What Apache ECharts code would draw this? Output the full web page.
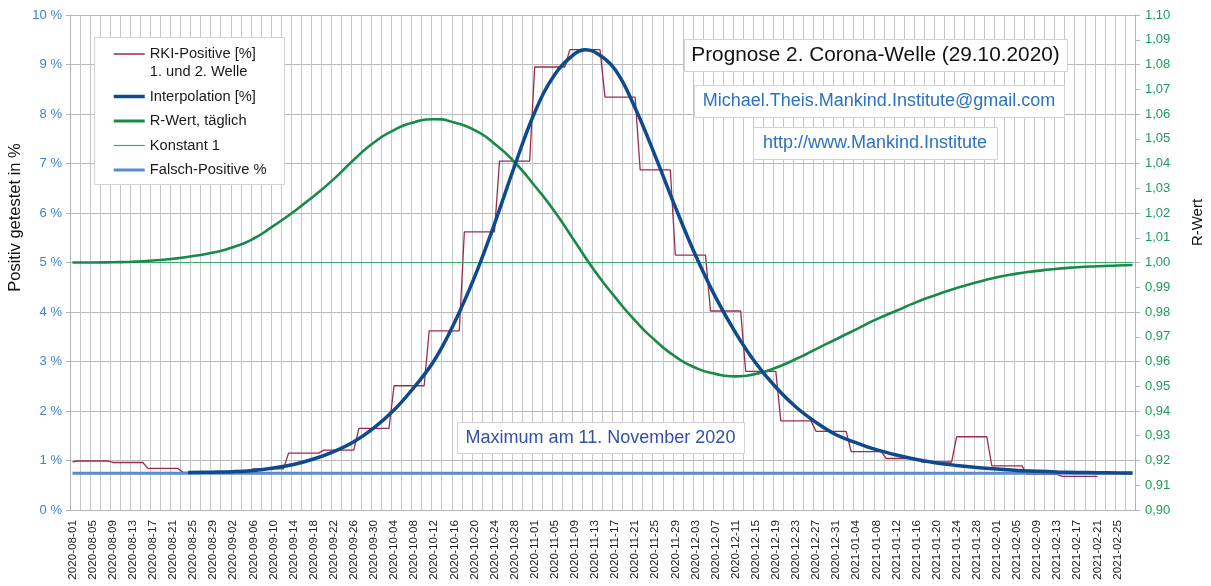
<!DOCTYPE html>
<html>
<head>
<meta charset="utf-8">
<script src="https://cdn.jsdelivr.net/npm/echarts@6/dist/echarts.min.js"></script>
<style>
  html, body { margin: 0; background: #fff; }
  #chart { width: 1211px; height: 586px; }
</style>
</head>
<body>
<div id="chart"></div>
<script>
const FONT = '"Liberation Sans", Arial, sans-serif';

// Tage 2020-08-01 .. 2021-02-28 (Kategorien)
const firstDay = Date.UTC(2020, 7, 1);
const days = [];
for (let i = 0; i < 212; i++) {
  days.push(new Date(firstDay + i * 86400000).toISOString().slice(0, 10));
}

// RKI-Positive [%], wochenweise (Beginn der Woche)
const rkiStarts = ['2020-08-01', '2020-08-02', '2020-08-09', '2020-08-16', '2020-08-23', '2020-08-30',
  '2020-09-06', '2020-09-13', '2020-09-20', '2020-09-27', '2020-10-04', '2020-10-11', '2020-10-18',
  '2020-10-25', '2020-11-01', '2020-11-08', '2020-11-15', '2020-11-22', '2020-11-29', '2020-12-06',
  '2020-12-13', '2020-12-20', '2020-12-27', '2021-01-03', '2021-01-10', '2021-01-17', '2021-01-24',
  '2021-01-31', '2021-02-07', '2021-02-14'];
const rkiValues = [0.97, 0.99, 0.96, 0.84, 0.76, 0.77,
  0.83, 1.15, 1.21, 1.65, 2.51, 3.62, 5.62,
  7.05, 8.95, 9.30, 8.34, 6.87, 5.15, 4.02,
  2.80, 1.80, 1.59, 1.18, 1.04, 0.97, 1.48,
  0.89, 0.72, 0.68];
const rkiLastDay = '2021-02-21';

// Interpolation [%]
const interpDates = ['2020-08-24', '2020-08-29', '2020-09-02', '2020-09-06', '2020-09-10', '2020-09-14',
  '2020-09-18', '2020-09-22', '2020-09-26', '2020-09-30', '2020-10-04', '2020-10-08', '2020-10-12',
  '2020-10-16', '2020-10-20', '2020-10-24', '2020-10-28', '2020-11-01', '2020-11-05', '2020-11-09',
  '2020-11-11', '2020-11-13', '2020-11-17', '2020-11-21', '2020-11-25', '2020-11-29', '2020-12-03',
  '2020-12-07', '2020-12-11', '2020-12-15', '2020-12-19', '2020-12-23', '2020-12-27', '2020-12-31',
  '2021-01-04', '2021-01-08', '2021-01-12', '2021-01-16', '2021-01-20', '2021-01-24', '2021-01-28',
  '2021-02-01', '2021-02-05', '2021-02-09', '2021-02-13', '2021-02-17', '2021-02-21', '2021-02-25',
  '2021-02-28'];
const interpValues = [0.76, 0.765, 0.775, 0.80, 0.85, 0.92,
  1.03, 1.18, 1.38, 1.66, 2.02, 2.48, 3.02,
  3.78, 4.70, 5.78, 6.95, 8.03, 8.80, 9.22,
  9.30, 9.25, 8.90, 8.12, 7.15, 6.12, 5.15,
  4.30, 3.58, 2.97, 2.48, 2.08, 1.77, 1.52,
  1.36, 1.22, 1.11, 1.02, 0.95, 0.90, 0.86,
  0.83, 0.80, 0.785, 0.77, 0.76, 0.755, 0.75,
  0.745];

// R-Wert, täglich (rechte Achse)
const rDates = ['2020-08-01', '2020-08-05', '2020-08-09', '2020-08-13', '2020-08-17', '2020-08-21',
  '2020-08-25', '2020-08-29', '2020-09-02', '2020-09-06', '2020-09-10', '2020-09-14', '2020-09-18',
  '2020-09-22', '2020-09-26', '2020-09-30', '2020-10-04', '2020-10-08', '2020-10-12', '2020-10-16',
  '2020-10-20', '2020-10-24', '2020-10-28', '2020-11-01', '2020-11-05', '2020-11-09', '2020-11-13',
  '2020-11-17', '2020-11-21', '2020-11-25', '2020-11-29', '2020-12-03', '2020-12-07', '2020-12-11',
  '2020-12-15', '2020-12-19', '2020-12-23', '2020-12-27', '2020-12-31', '2021-01-04', '2021-01-08',
  '2021-01-12', '2021-01-16', '2021-01-20', '2021-01-24', '2021-01-28', '2021-02-01', '2021-02-05',
  '2021-02-09', '2021-02-13', '2021-02-17', '2021-02-21', '2021-02-25', '2021-02-28'];
const rValues = [1.0000, 1.0000, 1.0001, 1.0003, 1.0008, 1.0015,
  1.0026, 1.0040, 1.0062, 1.0096, 1.0148, 1.0205, 1.0268,
  1.0337, 1.0415, 1.0485, 1.0535, 1.0567, 1.0579, 1.0566,
  1.0535, 1.0480, 1.0405, 1.0310, 1.0205, 1.0085, 0.9965,
  0.9860, 0.9765, 0.9685, 0.9620, 0.9575, 0.9550, 0.9540,
  0.9550, 0.9575, 0.9610, 0.9650, 0.9690, 0.9730, 0.9770,
  0.9805, 0.9840, 0.9870, 0.9897, 0.9920, 0.9940, 0.9955,
  0.9966, 0.9975, 0.9981, 0.9985, 0.9988, 0.9990];

const konstantValue = 1.0;
const falschPositiveValue = 0.74;

const leftTicks = [0, 10, 1];        // min, max, interval (%)
const rightTicks = [0.9, 1.1, 0.01]; // min, max, interval (R)

// Stufenlinie: jede Woche hält ihren Wert bis zum Vortag der nächsten
const rkiData = [];
rkiStarts.forEach((s, k) => {
  const end = k < rkiStarts.length - 1 ? days[days.indexOf(rkiStarts[k + 1]) - 1] : rkiLastDay;
  rkiData.push([s, rkiValues[k]]);
  if (end !== s) rkiData.push([end, rkiValues[k]]);
});

const RKI_NAME = 'RKI-Positive [%]\n1. und 2. Welle';
const C_RKI = '#9a2c4c', C_INT = '#0e4a8c', C_R = '#178a4a', C_K = '#3aa96a', C_FP = '#5b8bd0';

const chart = echarts.init(document.getElementById('chart'));

const boxStyle = { fill: '#fff', stroke: '#d2d2d2', lineWidth: 1 };
function box(x, y, w, h, z) {
  return { type: 'rect', z: z, silent: true, shape: { x: x + 0.5, y: y + 0.5, width: w, height: h }, style: boxStyle };
}
function label(text, cx, cy, size, color) {
  return {
    type: 'text', z: 11, silent: true, x: cx, y: cy,
    style: { text: text, font: size + 'px ' + FONT, fill: color, align: 'center', verticalAlign: 'middle' }
  };
}

chart.setOption({
  animation: false,
  backgroundColor: '#fff',
  textStyle: { fontFamily: FONT },
  grid: { left: 70, right: 76, top: 15, bottom: 76, outerBoundsMode: 'none', containLabel: false },
  legend: {
    orient: 'vertical',
    left: 112,
    top: 27,
    padding: 0,
    z: 20,
    itemGap: 6.5,
    itemWidth: 31,
    itemHeight: 14,
    selectedMode: false,
    itemStyle: { opacity: 0 },
    // erste Zeile des zweizeiligen Eintrags auf Höhe der Linie
    formatter: name => (name === RKI_NAME ? ' \n' + name : name),
    textStyle: { fontSize: 14.7, color: '#1a1a1a', lineHeight: 18, fontFamily: FONT },
    data: [
      { name: RKI_NAME, lineStyle: { width: 1.5, color: C_RKI } },
      { name: 'Interpolation [%]', lineStyle: { width: 3.5, color: C_INT } },
      { name: 'R-Wert, täglich', lineStyle: { width: 3, color: C_R } },
      { name: 'Konstant 1', lineStyle: { width: 1.2, color: C_K } },
      { name: 'Falsch-Positive %', lineStyle: { width: 3, color: C_FP } }
    ]
  },
  xAxis: {
    type: 'category',
    data: days,
    boundaryGap: true,
    axisLine: { lineStyle: { color: '#b3b3b3' } },
    axisTick: { show: false },
    axisLabel: { interval: 3, rotate: 90, fontSize: 11.7, color: '#222', margin: 10, fontFamily: FONT },
    splitLine: { show: true, interval: 1, lineStyle: { color: '#c6c6c6', width: 1 } }
  },
  yAxis: [
    {
      type: 'value',
      position: 'left',
      min: leftTicks[0], max: leftTicks[1], interval: leftTicks[2],
      name: 'Positiv getestet in %',
      nameLocation: 'middle',
      nameRotate: 90,
      nameGap: 46,
      nameMoveOverlap: false,
      nameTextStyle: { fontSize: 16.5, color: '#111', fontFamily: FONT, padding: [0, 0, 0, 90] },
      axisLine: { show: true, lineStyle: { color: '#b3b3b3' } },
      axisTick: { show: true, length: 4, lineStyle: { color: '#b3b3b3' } },
      axisLabel: { formatter: '{value} %', color: '#3d83d4', fontSize: 13, margin: 8, fontFamily: FONT },
      splitLine: { show: true, lineStyle: { color: '#b8b8b8', width: 1 } }
    },
    {
      type: 'value',
      position: 'right',
      min: rightTicks[0], max: rightTicks[1], interval: rightTicks[2],
      name: 'R-Wert',
      nameLocation: 'middle',
      nameRotate: 90,
      nameGap: 55,
      nameMoveOverlap: false,
      nameTextStyle: { fontSize: 15, color: '#111', fontFamily: FONT, padding: [0, 0, 0, 80] },
      axisLine: { show: true, lineStyle: { color: '#b3b3b3' } },
      axisTick: { show: true, length: 5, lineStyle: { color: '#b3b3b3' } },
      axisLabel: {
        formatter: v => v.toFixed(2).replace('.', ','),
        color: '#1f9a5c', fontSize: 13, margin: 10, fontFamily: FONT
      },
      splitLine: { show: false }
    }
  ],
  series: [
    {
      name: RKI_NAME,
      type: 'line',
      yAxisIndex: 0,
      symbol: 'none',
      data: rkiData,
      lineStyle: { color: C_RKI, width: 1.3 },
      itemStyle: { color: C_RKI },
      z: 2
    },
    {
      name: 'Interpolation [%]',
      type: 'line',
      yAxisIndex: 0,
      symbol: 'none',
      smooth: 0.4,
      data: interpDates.map((d, i) => [d, interpValues[i]]),
      lineStyle: { color: C_INT, width: 3.5 },
      itemStyle: { color: C_INT },
      z: 4
    },
    {
      name: 'R-Wert, täglich',
      type: 'line',
      yAxisIndex: 1,
      symbol: 'none',
      smooth: 0.6,
      data: rDates.map((d, i) => [d, rValues[i]]),
      lineStyle: { color: C_R, width: 2.6 },
      itemStyle: { color: C_R },
      z: 3
    },
    {
      name: 'Konstant 1',
      type: 'line',
      yAxisIndex: 1,
      symbol: 'none',
      data: [[days[0], konstantValue], [days[days.length - 1], konstantValue]],
      lineStyle: { color: C_K, width: 1.2 },
      itemStyle: { color: C_K },
      z: 2
    },
    {
      name: 'Falsch-Positive %',
      type: 'line',
      yAxisIndex: 0,
      symbol: 'none',
      data: [[days[0], falschPositiveValue], [days[days.length - 1], falschPositiveValue]],
      lineStyle: { color: C_FP, width: 3 },
      itemStyle: { color: C_FP },
      z: 3
    }
  ],
  graphic: [
    box(94, 37, 190, 147, 10),
    box(684, 39, 383, 32, 10),
    label('Prognose 2. Corona-Welle (29.10.2020)', 875.5, 55.5, 20.8, '#111'),
    box(694, 85, 370, 32, 10),
    label('Michael.Theis.Mankind.Institute@gmail.com', 879, 101.5, 18, '#2b72c2'),
    box(753, 127, 244, 32, 10),
    label('http://www.Mankind.Institute', 875, 143.5, 18, '#2b72c2'),
    box(457, 422, 287, 31, 10),
    label('Maximum am 11. November 2020', 600.5, 438, 18, '#3350a6')
  ]
});
</script>
</body>
</html>
